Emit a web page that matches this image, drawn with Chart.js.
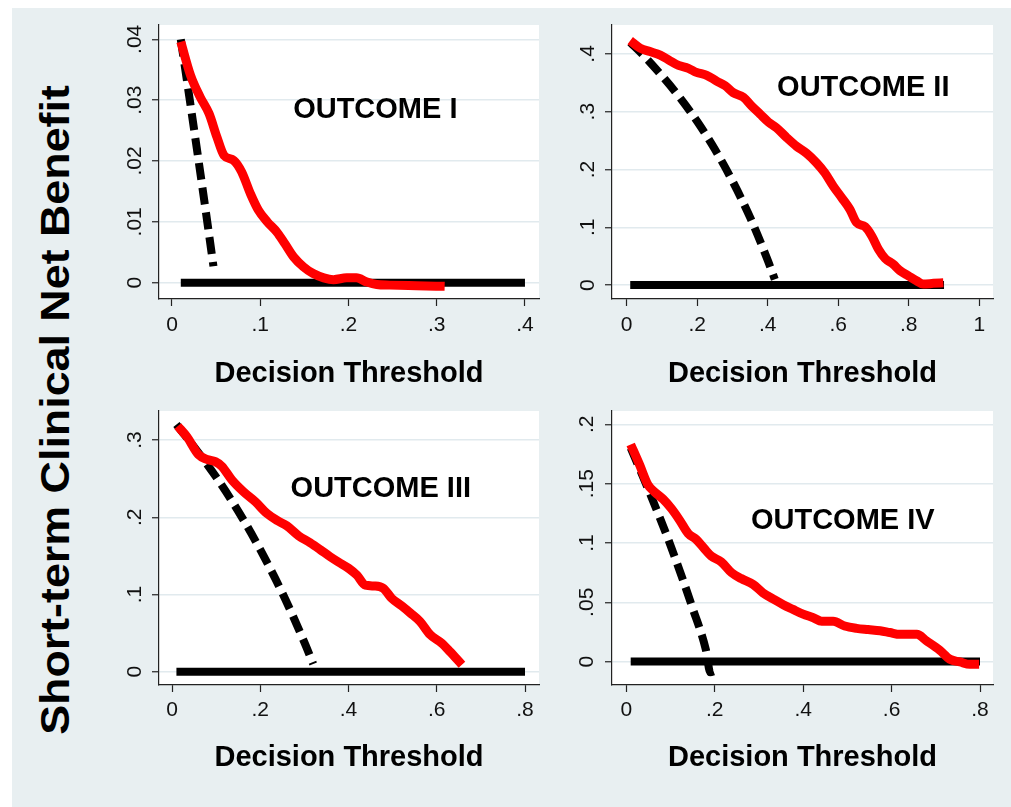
<!DOCTYPE html>
<html>
<head>
<meta charset="utf-8">
<title>Short-term Clinical Net Benefit</title>
<script src="https://cdn.jsdelivr.net/npm/chart.js@4.4.0/dist/chart.umd.min.js"></script>
<style>
  html, body { margin: 0; padding: 0; background: #ffffff; }
  #page { position: relative; width: 1011px; height: 807px; overflow: hidden; background: #ffffff; }
  #region { position: absolute; left: 12px; top: 8px; right: 0; bottom: 0; background: #e8eff1; }
  #page canvas { position: absolute; }
  #ytitle {
    position: absolute; left: 55px; top: 410px; white-space: nowrap;
    font: bold 40px "Liberation Sans", Arial, sans-serif; line-height: 1; color: #000;
    transform: translate(-50%, -50%) rotate(-90deg) scaleX(1.12);
  }
</style>
</head>
<body>
<div id="page">
  <div id="region"></div>
  <div id="ytitle">Short-term Clinical Net Benefit</div>
  <canvas id="c1"></canvas>
  <canvas id="c2"></canvas>
  <canvas id="c3"></canvas>
  <canvas id="c4"></canvas>
</div>
<script>
// ---- Outcome I ----
const modelThreshold1 = [0.010, 0.021, 0.032, 0.042, 0.051, 0.059, 0.070, 0.079, 0.089, 0.098, 0.108, 0.119, 0.128, 0.138, 0.149, 0.160, 0.172, 0.183, 0.198, 0.209, 0.221, 0.232, 0.247, 0.277, 0.309];
const modelBenefit1   = [0.0396, 0.0341, 0.0305, 0.0278, 0.0239, 0.0209, 0.0201, 0.0182, 0.0146, 0.0119, 0.0100, 0.0083, 0.0064, 0.0042, 0.0026, 0.0015, 0.0008, 0.0005, 0.0008, 0.0008, 0.0001, -0.0003, -0.0004, -0.0005, -0.0006];
const allThreshold1   = [0.010, 0.020, 0.030, 0.040, 0.047];
const allBenefit1     = [0.0400, 0.0302, 0.0202, 0.0100, 0.0027];
const noneThreshold1  = [0.01, 0.40];
const noneBenefit1    = [0, 0];
const xTicks1 = [0, 0.1, 0.2, 0.3, 0.4];
const yTicks1 = [0, 0.01, 0.02, 0.03, 0.04];

// ---- Outcome II ----
const modelThreshold2 = [0.010, 0.038, 0.066, 0.095, 0.123, 0.147, 0.175, 0.198, 0.227, 0.255, 0.279, 0.302, 0.331, 0.354, 0.378, 0.402, 0.425, 0.454, 0.482, 0.510, 0.539, 0.562, 0.586, 0.610, 0.633, 0.652, 0.676, 0.695, 0.714, 0.733, 0.756, 0.775, 0.799, 0.822, 0.841, 0.870, 0.898];
const modelBenefit2   = [0.423, 0.410, 0.404, 0.398, 0.388, 0.380, 0.375, 0.368, 0.363, 0.353, 0.345, 0.333, 0.325, 0.310, 0.296, 0.282, 0.272, 0.255, 0.240, 0.228, 0.211, 0.194, 0.171, 0.151, 0.131, 0.108, 0.101, 0.085, 0.062, 0.046, 0.036, 0.025, 0.016, 0.0075, 0.0017, 0.003, 0.004];
const allThreshold2   = [0.01, 0.05, 0.10, 0.15, 0.20, 0.25, 0.30, 0.35, 0.40, 0.42];
const allBenefit2     = [0.420, 0.396, 0.362, 0.325, 0.283, 0.235, 0.180, 0.117, 0.043, 0.010];
const noneThreshold2  = [0.01, 0.90];
const noneBenefit2    = [0, 0];
const xTicks2 = [0, 0.2, 0.4, 0.6, 0.8, 1];
const yTicks2 = [0, 0.1, 0.2, 0.3, 0.4];

// ---- Outcome III ----
const modelThreshold3 = [0.013, 0.034, 0.060, 0.079, 0.098, 0.113, 0.136, 0.162, 0.189, 0.215, 0.238, 0.260, 0.287, 0.313, 0.336, 0.358, 0.377, 0.400, 0.419, 0.438, 0.460, 0.479, 0.498, 0.521, 0.540, 0.562, 0.585, 0.611, 0.630, 0.657];
const modelBenefit3   = [0.318, 0.304, 0.281, 0.275, 0.272, 0.266, 0.248, 0.233, 0.220, 0.205, 0.196, 0.189, 0.176, 0.167, 0.158, 0.149, 0.142, 0.134, 0.125, 0.112, 0.111, 0.108, 0.095, 0.085, 0.076, 0.065, 0.048, 0.037, 0.026, 0.009];
const allThreshold3   = [0.01, 0.05, 0.10, 0.15, 0.20, 0.25, 0.30, 0.32];
const allBenefit3     = [0.320, 0.291, 0.252, 0.208, 0.158, 0.102, 0.038, 0.010];
const noneThreshold3  = [0.01, 0.80];
const noneBenefit3    = [0, 0];
const xTicks3 = [0, 0.2, 0.4, 0.6, 0.8];
const yTicks3 = [0, 0.1, 0.2, 0.3];

// ---- Outcome IV ----
const modelThreshold4 = [0.010, 0.030, 0.049, 0.064, 0.083, 0.102, 0.121, 0.140, 0.158, 0.177, 0.192, 0.215, 0.238, 0.260, 0.287, 0.309, 0.336, 0.355, 0.377, 0.400, 0.423, 0.442, 0.468, 0.494, 0.521, 0.547, 0.574, 0.596, 0.619, 0.657, 0.679, 0.709, 0.732, 0.755, 0.777, 0.798];
const modelBenefit4   = [0.183, 0.166, 0.149, 0.143, 0.137, 0.129, 0.119, 0.108, 0.103, 0.095, 0.089, 0.084, 0.075, 0.070, 0.065, 0.058, 0.052, 0.048, 0.044, 0.040, 0.037, 0.034, 0.034, 0.030, 0.028, 0.027, 0.026, 0.0245, 0.023, 0.023, 0.0175, 0.0096, 0.002, -0.0003, -0.0023, -0.0023];
const allThreshold4   = [0.01, 0.05, 0.10, 0.15, 0.18, 0.19, 0.20];
const allBenefit4     = [0.180, 0.145, 0.098, 0.045, 0.010, -0.009, -0.008];
const noneThreshold4  = [0.01, 0.80];
const noneBenefit4    = [0, 0];
const xTicks4 = [0, 0.2, 0.4, 0.6, 0.8];
const yTicks4 = [0, 0.05, 0.1, 0.15, 0.2];

const panelTitles = ['OUTCOME I', 'OUTCOME II', 'OUTCOME III', 'OUTCOME IV'];
const xAxisTitle = 'Decision Threshold';

const FONT = '"Liberation Sans", Arial, Helvetica, sans-serif';

// Stata-style numeric labels: 0, .1, .05 ...
function shortNumber(v) {
  if (Math.abs(v) < 1e-9) return '0';
  const s = String(Math.round(v * 1000) / 1000);
  return s.replace(/^0\./, '.').replace(/^-0\./, '-.');
}

function points(xs, ys) {
  return xs.map((x, i) => ({ x: x, y: ys[i] }));
}

// white plot region behind grid and curves
const plotBackground = {
  id: 'plotBackground',
  beforeDraw(chart) {
    const { ctx, chartArea: a } = chart;
    ctx.save();
    ctx.fillStyle = '#ffffff';
    ctx.fillRect(a.left, a.top, a.right - a.left, a.bottom - a.top);
    ctx.restore();
  }
};

// in-plot outcome caption placed at data coordinates
const panelLabel = {
  id: 'panelLabel',
  afterDatasetsDraw(chart, args, opts) {
    const { ctx, scales } = chart;
    ctx.save();
    ctx.font = 'bold 29px ' + FONT;
    ctx.fillStyle = '#000000';
    ctx.textAlign = 'center';
    ctx.textBaseline = 'alphabetic';
    ctx.fillText(opts.text, scales.x.getPixelForValue(opts.x), scales.y.getPixelForValue(opts.y));
    ctx.restore();
  }
};

const panels = [
  { id: 'c1', left: 100, top: 0,   width: 460, height: 400, padRight: 21, tickPad: 7,   titlePad: 9,
    xMin: -0.0147, xMax: 0.4159, yMin: -0.00268, yMax: 0.04235, yTickPad: 2,
    model: [modelThreshold1, modelBenefit1], all: [allThreshold1, allBenefit1], none: [noneThreshold1, noneBenefit1],
    xTicks: xTicks1, yTicks: yTicks1, title: panelTitles[0], labelAt: [0.2304, 0.0270] },
  { id: 'c2', left: 553, top: 0,   width: 458, height: 400, padRight: 18, tickPad: 7,   titlePad: 9,
    xMin: -0.0417, xMax: 1.0389, yMin: -0.0241, yMax: 0.45, yTickPad: 8,
    model: [modelThreshold2, modelBenefit2], all: [allThreshold2, allBenefit2], none: [noneThreshold2, noneBenefit2],
    xTicks: xTicks2, yTicks: yTicks2, title: panelTitles[1], labelAt: [0.671, 0.3264] },
  { id: 'c3', left: 100, top: 386, width: 460, height: 400, padRight: 21, tickPad: 5.5, titlePad: 11,
    xMin: -0.0295, xMax: 0.8317, yMin: -0.0172, yMax: 0.3376, yTickPad: 8,
    model: [modelThreshold3, modelBenefit3], all: [allThreshold3, allBenefit3], none: [noneThreshold3, noneBenefit3],
    xTicks: xTicks3, yTicks: yTicks3, title: panelTitles[2], labelAt: [0.4732, 0.2266] },
  { id: 'c4', left: 553, top: 386, width: 458, height: 400, padRight: 18, tickPad: 5.5, titlePad: 11,
    xMin: -0.0323, xMax: 0.8294, yMin: -0.0197, yMax: 0.2112, yTickPad: 3.5,
    model: [modelThreshold4, modelBenefit4], all: [allThreshold4, allBenefit4], none: [noneThreshold4, noneBenefit4],
    xTicks: xTicks4, yTicks: yTicks4, title: panelTitles[3], labelAt: [0.4897, 0.1119] }
];

panels.forEach(p => {
  const canvas = document.getElementById(p.id);
  canvas.width = p.width;
  canvas.height = p.height;
  canvas.style.left = p.left + 'px';
  canvas.style.top = p.top + 'px';

  new Chart(canvas, {
    type: 'scatter',
    data: {
      datasets: [
        { label: 'Model', data: points(p.model[0], p.model[1]), showLine: true, order: 1,
          borderColor: '#ff0000', borderWidth: 9, pointRadius: 0, cubicInterpolationMode: 'monotone',
          borderCapStyle: 'butt', borderJoinStyle: 'round' },
        { label: 'Treat all', data: points(p.all[0], p.all[1]), showLine: true, order: 2,
          borderColor: '#000000', borderWidth: 8, borderDash: [17, 8], pointRadius: 0,
          cubicInterpolationMode: 'monotone', borderCapStyle: 'butt' },
        { label: 'Treat none', data: points(p.none[0], p.none[1]), showLine: true, order: 3,
          borderColor: '#000000', borderWidth: 8, pointRadius: 0, borderCapStyle: 'butt' }
      ]
    },
    options: {
      responsive: false,
      animation: false,
      devicePixelRatio: 1,
      layout: { padding: { top: 25, right: p.padRight, bottom: 0, left: 0 } },
      plugins: {
        legend: { display: false },
        tooltip: { enabled: false },
        panelLabel: { text: p.title, x: p.labelAt[0], y: p.labelAt[1] }
      },
      scales: {
        x: {
          type: 'linear', min: p.xMin, max: p.xMax,
          afterBuildTicks: s => { s.ticks = p.xTicks.map(v => ({ value: v })); },
          afterFit: s => { s.height = 101; },
          grid: { drawOnChartArea: false, drawTicks: true, tickLength: 7, tickColor: '#222222', tickWidth: 1.2 },
          border: { display: true, color: '#222222', width: 1.2 },
          ticks: { autoSkip: false, maxRotation: 0, minRotation: 0, padding: p.tickPad, color: '#111111',
                   font: { family: FONT, size: 21 }, callback: v => shortNumber(v) },
          title: { display: true, text: xAxisTitle, color: '#000000',
                   font: { family: FONT, size: 29, weight: 'bold' }, padding: { top: 0, bottom: p.titlePad } }
        },
        y: {
          type: 'linear', min: p.yMin, max: p.yMax,
          afterBuildTicks: s => { s.ticks = p.yTicks.map(v => ({ value: v })); },
          afterFit: s => { s.width = 59; },
          grid: { drawOnChartArea: true, color: '#e1eaee', lineWidth: 1.5, drawTicks: true,
                  tickLength: 7, tickColor: '#222222', tickWidth: 1.2 },
          border: { display: true, color: '#222222', width: 1.2 },
          ticks: { autoSkip: false, minRotation: 90, maxRotation: 90, crossAlign: 'center',
                   padding: p.yTickPad, color: '#111111', font: { family: FONT, size: 21 },
                   callback: v => shortNumber(v) }
        }
      }
    },
    plugins: [plotBackground, panelLabel]
  });
});
</script>
</body>
</html>
